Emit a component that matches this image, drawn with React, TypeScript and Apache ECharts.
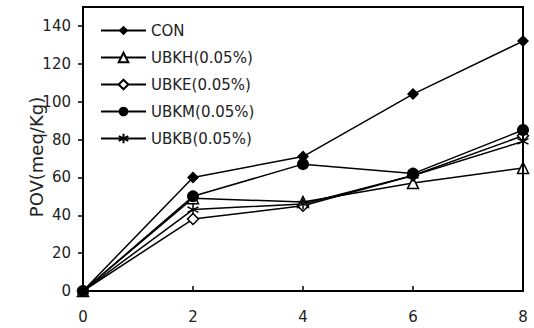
import React, { useEffect, useRef } from "react";
import * as echarts from "echarts";

const xValues = [0, 2, 4, 6, 8];
const seriesNames = ["CON", "UBKH(0.05%)", "UBKE(0.05%)", "UBKM(0.05%)", "UBKB(0.05%)"];
const conValues = [0, 60, 71, 104, 132];
const ubkhValues = [0, 49, 47, 57, 65];
const ubkeValues = [0, 38, 45, 61, 82];
const ubkmValues = [0, 50, 67, 62, 85];
const ubkbValues = [0, 43, 46, 61, 79];
const yTicks = [0, 20, 40, 60, 80, 100, 120, 140];
const yAxisName = "POV(meq/Kg)";
const xMin = 0;
const xMax = 8;
const yMin = 0;
const yMax = 150;

const STAR = "path://M0,-10 L0,10 M-8.66,-5 L8.66,5 M-8.66,5 L8.66,-5";

const W = 534;
const H = 328;
const G = { left: 83, right: 11, top: 7, bottom: 37 };

export default function App() {
  const ref = useRef<HTMLDivElement>(null);
  useEffect(() => {
    const chart = echarts.init(ref.current!, null, { renderer: "svg" });
    const font = "DejaVu Sans";
    const txt = "#222";
    const mk = (name: string, vals: number[], symbol: string, size: number, open: boolean, star = false) => ({
      name,
      type: "line",
      data: xValues.map((x, i) => [x, vals[i]]),
      symbol,
      symbolSize: size,
      showAllSymbol: true,
      lineStyle: { color: "#000", width: 1.5 },
      itemStyle: star
        ? { color: "#000", borderColor: "#000", borderWidth: 1.5 }
        : open
        ? { color: "#fff", borderColor: "#000", borderWidth: 1.5 }
        : { color: "#000", borderColor: "#000", borderWidth: 0 },
      emphasis: { disabled: true },
    });
    chart.setOption({
      animation: false,
      textStyle: { fontFamily: font },
      grid: { ...G },
      legend: {
        left: 100,
        top: 23,
        padding: 0,
        orient: "vertical",
        itemWidth: 45,
        itemHeight: 12,
        itemGap: 12,
        data: seriesNames,
        textStyle: { fontFamily: font, fontSize: 15, color: txt },
      },
      xAxis: {
        type: "value",
        min: xMin,
        max: xMax,
        interval: 2,
        axisLine: { onZero: false, lineStyle: { color: "#000", width: 2 } },
        axisTick: { inside: true, length: 5, lineStyle: { color: "#000", width: 1.5 } },
        axisLabel: { color: txt, fontSize: 15, fontFamily: font, margin: 18 },
        splitLine: { show: false },
      },
      yAxis: {
        type: "value",
        min: yMin,
        max: yMax,
        interval: 10,
        axisLine: { show: true, onZero: false, lineStyle: { color: "#000", width: 2 } },
        axisTick: { show: true, length: 5, customValues: yTicks, lineStyle: { color: "#000", width: 1.5 } },
        axisLabel: { color: txt, fontSize: 15, fontFamily: font, margin: 12, customValues: yTicks },
        splitLine: { show: false },
      },
      graphic: [
        {
          type: "text",
          x: 36,
          y: 157,
          rotation: Math.PI / 2,
          style: {
            text: yAxisName,
            fill: txt,
            font: `18px "${font}"`,
            textAlign: "center",
            textVerticalAlign: "middle",
          },
        },
        {
          type: "rect",
          shape: { x: G.left, y: G.top, width: W - G.left - G.right, height: H - G.top - G.bottom },
          style: { stroke: "#000", lineWidth: 2, fill: "none" },
          z: 100,
          silent: true,
        },
      ],
      series: [
        mk(seriesNames[0], conValues, "diamond", 12, false),
        mk(seriesNames[1], ubkhValues, "triangle", 11, true),
        mk(seriesNames[2], ubkeValues, "diamond", 11, true),
        mk(seriesNames[3], ubkmValues, "circle", 12, false),
        mk(seriesNames[4], ubkbValues, STAR, 11, false, true),
      ],
    });
    return () => chart.dispose();
  }, []);
  return <div ref={ref} style={{ width: W, height: H, position: "absolute", left: 0, top: 0 }} />;
}
